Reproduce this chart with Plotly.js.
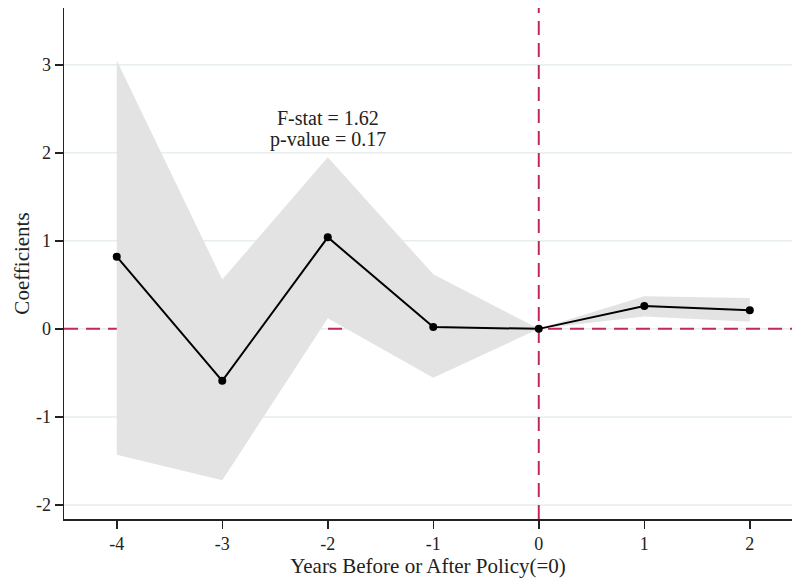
<!DOCTYPE html>
<html>
<head>
<meta charset="utf-8">
<script src="https://cdn.plot.ly/plotly-3.0.1.min.js"></script>
<style>body{margin:0;padding:0;background:#fff;}#chart{width:792px;height:579px;}</style>
</head>
<body>
<div id="chart"></div>
<script>
var years = [-4, -3, -2, -1, 0, 1, 2];
var coef = [0.82, -0.59, 1.04, 0.02, 0, 0.26, 0.21];
var ciUpper = [3.05, 0.56, 1.95, 0.62, 0, 0.37, 0.35];
var ciLower = [-1.43, -1.72, 0.12, -0.555, 0, 0.14, 0.08];
var yTicks = [-2, -1, 0, 1, 2, 3];
var xTicks = [-4, -3, -2, -1, 0, 1, 2];
var annLines = ["F-stat = 1.62", "p-value = 0.17"];

var bandX = years.concat(years.slice().reverse());
var bandY = ciUpper.concat(ciLower.slice().reverse());

var serif = "Liberation Serif, Times New Roman, serif";
var red = "#c4285a";

var traces = [
  {x: bandX, y: bandY, type: "scatter", mode: "lines", fill: "toself",
   fillcolor: "#e3e3e3", line: {width: 0, color: "rgba(0,0,0,0)"}, hoverinfo: "skip", showlegend: false},
  {x: years, y: coef, type: "scatter", mode: "lines+markers",
   line: {color: "#000", width: 2}, marker: {color: "#000", size: 8}, showlegend: false}
];

// gridlines drawn as shapes so the red reference line can sit above them
var shapes = yTicks.map(function (v) {
  return {type: "line", xref: "paper", yref: "y", x0: 0, x1: 1, y0: v, y1: v, layer: "below",
          line: {color: "#e6eeef", width: 1.5}};
});
shapes.push({type: "line", xref: "paper", yref: "y", x0: 0, x1: 1, y0: 0, y1: 0, layer: "below",
             line: {color: red, width: 2, dash: "14px,8px"}});
shapes.push({type: "line", xref: "x", yref: "paper", x0: 0, x1: 0, y0: 0, y1: 1, layer: "below",
             line: {color: red, width: 2, dash: "14px,8px"}});

var layout = {
  width: 792, height: 579,
  margin: {l: 64, r: 0, t: 8, b: 60},
  paper_bgcolor: "#fff", plot_bgcolor: "#fff",
  showlegend: false,
  font: {family: serif, color: "#222", size: 18},
  xaxis: {
    range: [-4.5, 2.4], tickvals: xTicks, ticktext: xTicks.map(String),
    showgrid: false, zeroline: false, showline: true, linecolor: "#222", linewidth: 1.5,
    ticks: "outside", ticklen: 8, tickcolor: "#222", tickwidth: 1.5,
    tickfont: {family: serif, size: 18, color: "#222"},
    title: {text: "Years Before or After Policy(=0)", font: {family: serif, size: 21, color: "#222"}, standoff: 2}
  },
  yaxis: {
    range: [-2.16, 3.645], tickvals: yTicks, ticktext: yTicks.map(String),
    showgrid: false, zeroline: false,
    showline: true, linecolor: "#222", linewidth: 1.5,
    ticks: "outside", ticklen: 8, tickcolor: "#222", tickwidth: 1.5,
    tickfont: {family: serif, size: 18, color: "#222"},
    title: {text: "Coefficients", font: {family: serif, size: 21, color: "#222"}, standoff: 0}
  },
  shapes: shapes,
  annotations: [
    {x: -2, y: 2.39, xref: "x", yref: "y", text: annLines[0], showarrow: false,
     font: {family: serif, size: 20, color: "#222"}, align: "center"},
    {x: -2, y: 2.155, xref: "x", yref: "y", text: annLines[1], showarrow: false,
     font: {family: serif, size: 20, color: "#222"}, align: "center"}
  ]
};

Plotly.newPlot("chart", traces, layout, {displayModeBar: false, staticPlot: true});
</script>
</body>
</html>
